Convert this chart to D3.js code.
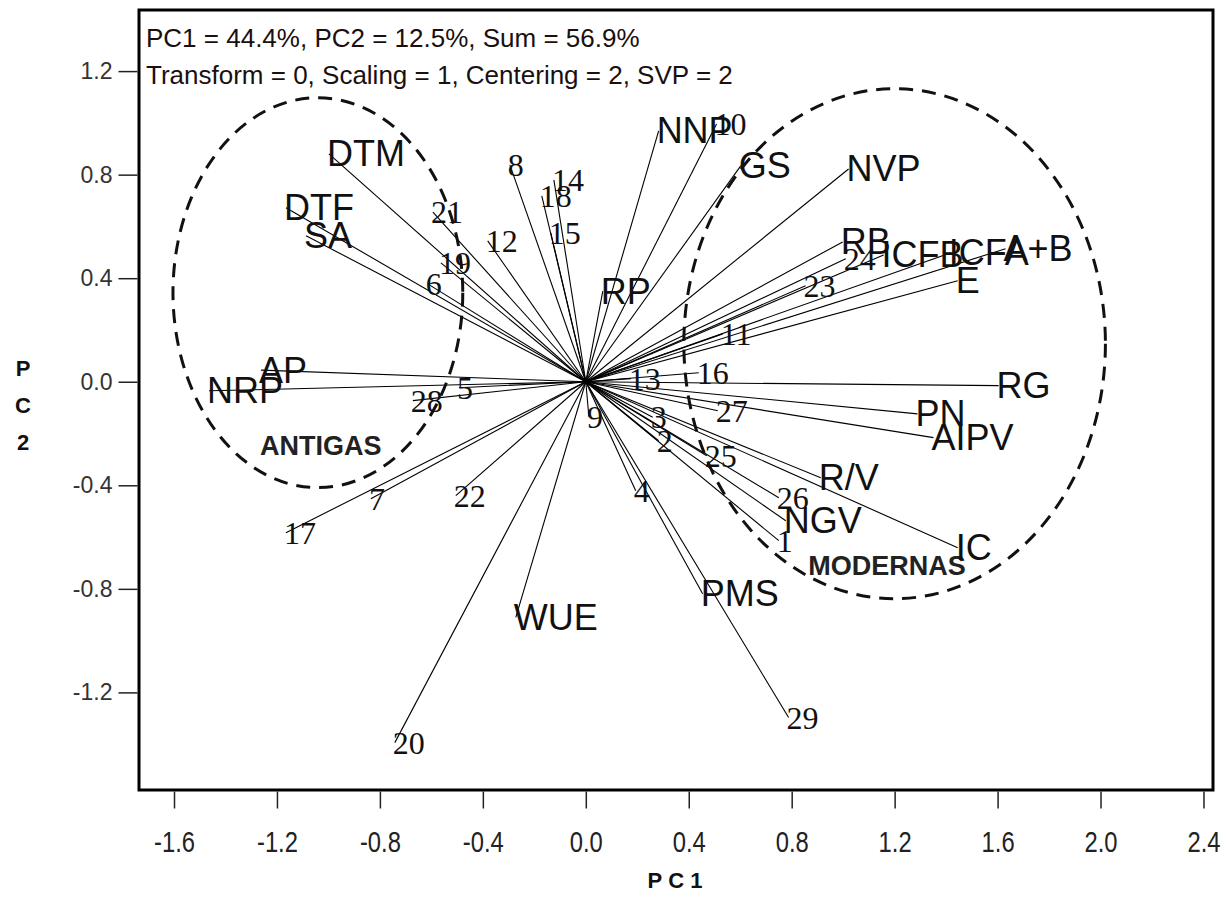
<!DOCTYPE html>
<html>
<head>
<meta charset="utf-8">
<script src="https://cdn.jsdelivr.net/npm/d3@7"></script>
<style>
  body { margin: 0; background: #fff; }
  svg { display: block; }
</style>
</head>
<body>
<div id="chart"></div>
<script>
// variable vectors (trait names)
const traitNames = ["DTM", "DTF", "SA", "AP", "NRP", "NNP", "GS", "NVP", "RB", "ICFB", "ICFA", "A+B", "E", "RP",
  "RG", "PN", "AIPV", "R/V", "NGV", "IC", "PMS", "WUE"]
const traitPC1 = [-0.998, -1.165, -1.087, -1.262, -1.464, 0.283, 0.602, 1.021, 0.998, 1.157, 1.418, 1.631, 1.445, 0.066,
  1.604, 1.289, 1.351, 0.913, 0.777, 1.445, 0.454, -0.272]
const traitPC2 = [0.880, 0.672, 0.564, 0.045, -0.035, 0.969, 0.834, 0.822, 0.540, 0.490, 0.498, 0.514, 0.390, 0.350,
  -0.015, -0.124, -0.216, -0.371, -0.537, -0.641, -0.819, -0.910]

// genotypes 1..29
const genoNames = ["1", "2", "3", "4", "5", "6", "7", "8", "9", "10", "11", "12", "13", "14", "15",
  "16", "17", "18", "19", "20", "21", "22", "23", "24", "25", "26", "27", "28", "29"]
const genoPC1 = [0.750, 0.283, 0.260, 0.194, -0.493, -0.614, -0.835, -0.295, 0.012, 0.508, 0.532, -0.381, 0.175, -0.124, -0.136,
  0.439, -1.165, -0.171, -0.563, -0.742, -0.594, -0.505, 0.854, 1.010, 0.470, 0.750, 0.513, -0.672, 0.788]
const genoPC2 = [-0.614, -0.228, -0.137, -0.421, -0.023, 0.378, -0.452, 0.838, -0.135, 0.996, 0.185, 0.544, 0.012, 0.780, 0.575,
  0.035, -0.583, 0.718, 0.459, -1.394, 0.655, -0.440, 0.371, 0.475, -0.286, -0.448, -0.112, -0.073, -1.297]

// group ellipses: centre x, centre y, radius x, radius y (data units)
const groupNames = ["ANTIGAS", "MODERNAS"]
const groupCx = [-1.041, 1.200]
const groupCy = [0.344, 0.147]
const groupRx = [0.563, 0.819]
const groupRy = [0.753, 0.985]
const groupLabelX = [-1.03, 1.17]
const groupLabelY = [-0.25, -0.71]

const xTicks = [-1.6, -1.2, -0.8, -0.4, 0.0, 0.4, 0.8, 1.2, 1.6, 2.0, 2.4]
const yTicks = [-1.2, -0.8, -0.4, 0.0, 0.4, 0.8, 1.2]

const headerLines = ["PC1 = 44.4%, PC2 = 12.5%, Sum = 56.9%",
  "Transform = 0, Scaling = 1, Centering = 2, SVP = 2"]

const width = 1227, height = 902
const frame = { left: 139, right: 1213, top: 10, bottom: 790 }

const x = d3.scaleLinear().domain([-1.736, 2.437]).range([frame.left, frame.right])
const y = d3.scaleLinear().domain([-1.577, 1.436]).range([frame.bottom, frame.top])

const svg = d3.select("#chart").append("svg")
  .attr("width", width)
  .attr("height", height)

svg.append("rect").attr("width", width).attr("height", height).attr("fill", "#fff")

const plot = svg.append("g")

// vectors from the origin
const traits = traitNames.map((n, i) => ({ name: n, px: traitPC1[i], py: traitPC2[i] }))
const genos = genoNames.map((n, i) => ({ name: n, px: genoPC1[i], py: genoPC2[i] }))

plot.append("g").selectAll("line")
  .data(traits.concat(genos))
  .enter().append("line")
  .attr("x1", x(0)).attr("y1", y(0))
  .attr("x2", d => x(d.px)).attr("y2", d => y(d.py))
  .attr("stroke", "#000")
  .attr("stroke-width", 1.1)

// ellipses
plot.append("g").selectAll("ellipse")
  .data(groupNames)
  .enter().append("ellipse")
  .attr("cx", (d, i) => x(groupCx[i]))
  .attr("cy", (d, i) => y(groupCy[i]))
  .attr("rx", (d, i) => x(groupRx[i]) - x(0))
  .attr("ry", (d, i) => y(0) - y(groupRy[i]))
  .attr("fill", "none")
  .attr("stroke", "#111")
  .attr("stroke-width", 3)
  .attr("stroke-dasharray", "14,9")

plot.append("g").selectAll("text")
  .data(groupNames)
  .enter().append("text")
  .attr("x", (d, i) => x(groupLabelX[i]))
  .attr("y", (d, i) => y(groupLabelY[i]))
  .attr("text-anchor", "middle")
  .attr("dominant-baseline", "central")
  .attr("font-family", "Liberation Sans, Arial, sans-serif")
  .attr("font-weight", "bold")
  .attr("font-size", 27)
  .attr("fill", "#222")
  .text(d => d)

// genotype labels
plot.append("g").selectAll("text")
  .data(genos)
  .enter().append("text")
  .attr("x", d => x(d.px) - 2)
  .attr("y", d => y(d.py))
  .attr("dominant-baseline", "central")
  .attr("font-family", "Liberation Serif, Times New Roman, serif")
  .attr("font-size", 32)
  .attr("fill", "#111")
  .text(d => d.name)

// trait labels
plot.append("g").selectAll("text")
  .data(traits)
  .enter().append("text")
  .attr("x", d => x(d.px) - 2)
  .attr("y", d => y(d.py))
  .attr("dominant-baseline", "central")
  .attr("font-family", "Liberation Sans, Arial, sans-serif")
  .attr("font-size", 36)
  .attr("fill", "#111")
  .text(d => d.name)

// header
svg.append("g").selectAll("text")
  .data(headerLines)
  .enter().append("text")
  .attr("x", frame.left + 7)
  .attr("y", (d, i) => 38 + i * 37)
  .attr("dominant-baseline", "central")
  .attr("font-family", "Liberation Sans, Arial, sans-serif")
  .attr("font-size", 26)
  .attr("fill", "#1a1010")
  .text(d => d)

// frame
svg.append("rect")
  .attr("x", frame.left).attr("y", frame.top)
  .attr("width", frame.right - frame.left).attr("height", frame.bottom - frame.top)
  .attr("fill", "none")
  .attr("stroke", "#000")
  .attr("stroke-width", 3)

const fmt = d => d.toFixed(1)

const xAxis = svg.append("g")
  .attr("transform", `translate(0,${frame.bottom + 1.5})`)
  .call(d3.axisBottom(x).tickValues(xTicks).tickFormat(fmt).tickSize(17))
xAxis.select(".domain").remove()
xAxis.selectAll("text")
  .attr("y", null).attr("dy", null)
  .attr("dominant-baseline", "central")
  .attr("transform", "translate(0,51) scale(0.82,1)")
  .attr("font-family", "Liberation Sans, Arial, sans-serif")
  .attr("font-size", 29)
  .attr("fill", "#222")
xAxis.selectAll("line").attr("stroke", "#222").attr("stroke-width", 1.5)

const yAxis = svg.append("g")
  .attr("transform", `translate(${frame.left - 1.5},0)`)
  .call(d3.axisLeft(y).tickValues(yTicks).tickFormat(fmt).tickSize(19).tickPadding(6))
yAxis.select(".domain").remove()
yAxis.selectAll("text")
  .attr("font-family", "Liberation Sans, Arial, sans-serif")
  .attr("font-size", 23)
  .attr("fill", "#333")
yAxis.selectAll("line").attr("stroke", "#222").attr("stroke-width", 1.5)

// axis titles
svg.append("text")
  .attr("x", (frame.left + frame.right) / 2 + 2)
  .attr("y", 880)
  .attr("text-anchor", "middle")
  .attr("dominant-baseline", "central")
  .attr("font-family", "Liberation Sans, Arial, sans-serif")
  .attr("font-weight", "bold")
  .attr("font-size", 22)
  .attr("letter-spacing", 6)
  .attr("fill", "#111")
  .text("PC1")

svg.append("g").selectAll("text")
  .data(["P", "C", "2"])
  .enter().append("text")
  .attr("x", 23)
  .attr("y", (d, i) => 368 + i * 37)
  .attr("text-anchor", "middle")
  .attr("dominant-baseline", "central")
  .attr("font-family", "Liberation Sans, Arial, sans-serif")
  .attr("font-weight", "bold")
  .attr("font-size", 22)
  .attr("fill", "#111")
  .text(d => d)
</script>
</body>
</html>
